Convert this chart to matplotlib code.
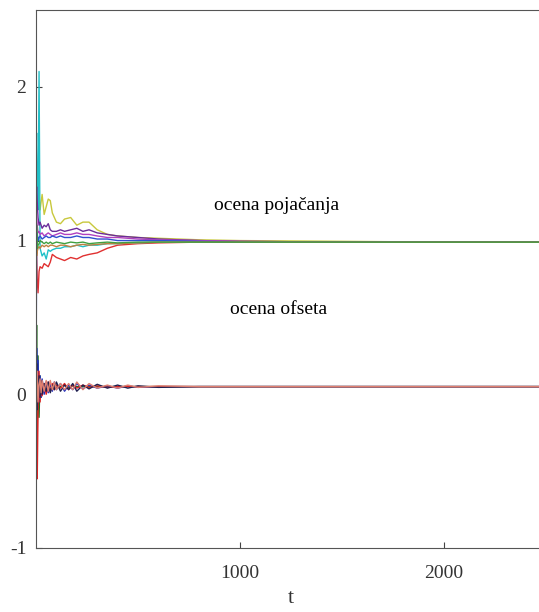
import matplotlib
matplotlib.use('Agg')
import matplotlib.pyplot as plt

plt.rcParams['font.family'] = ['Liberation Serif', 'DejaVu Serif']

# vremenske tacke (uzorci ocitani sa slike)
t_gain = [1, 3, 6, 10, 15, 20, 30, 40, 50, 60, 70, 80, 100, 120, 140, 170,
          200, 230, 260, 300, 350, 400, 500, 600, 800, 1000, 1500, 2000, 2500]
t_off = [1, 3, 6, 10, 15, 20, 25, 30, 40, 50, 60, 70, 80, 90, 100, 120, 140,
         160, 180, 200, 230, 260, 300, 350, 400, 450, 500, 600, 800, 1000, 1500, 2000, 2500]

# ocene pojacanja
gain_yellow = [1.40, 1.50, 1.35, 1.48, 1.30, 1.20, 1.30, 1.17, 1.22, 1.27, 1.26, 1.18, 1.12, 1.11, 1.14,
               1.15, 1.10, 1.12, 1.12, 1.07, 1.04, 1.03, 1.02, 1.015, 1.005, 1.0, 0.995, 0.99, 0.99]
gain_purple = [1.30, 1.35, 1.25, 1.15, 1.10, 1.12, 1.08, 1.10, 1.09, 1.11, 1.07, 1.06, 1.06, 1.07, 1.06,
               1.07, 1.08, 1.06, 1.07, 1.05, 1.04, 1.03, 1.02, 1.01, 1.0, 0.995, 0.99, 0.99, 0.99]
gain_magenta = [1.20, 1.15, 1.10, 1.05, 1.06, 1.04, 1.05, 1.03, 1.04, 1.05, 1.04, 1.03, 1.04, 1.05, 1.04,
                1.04, 1.05, 1.04, 1.04, 1.03, 1.02, 1.02, 1.01, 1.005, 1.0, 0.995, 0.99, 0.99, 0.99]
gain_blue = [0.30, 0.95, 1.05, 1.00, 1.02, 1.03, 1.01, 1.02, 1.03, 1.02, 1.02, 1.03, 1.02, 1.03, 1.02,
             1.02, 1.03, 1.02, 1.02, 1.01, 1.01, 1.0, 1.0, 1.0, 0.995, 0.99, 0.99, 0.99, 0.99]
gain_green = [0.85, 1.10, 0.95, 0.97, 0.98, 1.00, 0.99, 0.98, 0.99, 0.98, 0.99, 0.98, 0.99, 0.985, 0.98,
              0.99, 0.985, 0.99, 0.98, 0.985, 0.99, 0.985, 0.99, 0.99, 0.99, 0.99, 0.99, 0.99, 0.99]
gain_orange = [1.10, 0.90, 0.93, 0.95, 0.96, 0.95, 0.97, 0.96, 0.97, 0.96, 0.97, 0.97, 0.96, 0.97, 0.97,
               0.96, 0.97, 0.975, 0.97, 0.975, 0.98, 0.98, 0.985, 0.99, 0.99, 0.99, 0.99, 0.99, 0.99]
gain_cyan = [1.60, 1.70, 1.40, 1.20, 2.10, 0.95, 0.90, 0.92, 0.88, 0.94, 0.93, 0.94, 0.95, 0.95, 0.96,
             0.96, 0.97, 0.96, 0.97, 0.97, 0.98, 0.98, 0.985, 0.99, 0.99, 0.99, 0.99, 0.99, 0.99]
gain_red = [1.30, 0.90, 0.75, 0.66, 0.80, 0.83, 0.82, 0.85, 0.84, 0.83, 0.86, 0.91, 0.89, 0.88, 0.87,
            0.89, 0.88, 0.90, 0.91, 0.92, 0.95, 0.97, 0.98, 0.985, 0.99, 0.99, 0.99, 0.99, 0.99]

# ocene ofseta
off_blue = [0.10, 0.30, 0.05, 0.22, -0.05, 0.12, -0.02, 0.10, 0.00, 0.08, 0.01, 0.07, 0.02, 0.08, 0.03, 0.07,
            0.02, 0.06, 0.03, 0.07, 0.035, 0.06, 0.04, 0.055, 0.04, 0.055, 0.045, 0.05, 0.05, 0.05, 0.05, 0.05, 0.05]
off_green = [0.05, 0.45, -0.30, 0.25, -0.15, 0.12, -0.02, 0.08, 0.02, 0.07, 0.03, 0.06, 0.04, 0.06, 0.04, 0.05,
             0.06, 0.045, 0.055, 0.05, 0.05, 0.05, 0.05, 0.05, 0.05, 0.05, 0.05, 0.05, 0.05, 0.05, 0.05, 0.05, 0.05]
off_red = [0.00, -0.20, -0.55, -0.10, 0.15, -0.05, 0.08, -0.01, 0.07, 0.00, 0.08, 0.02, 0.07, 0.03, 0.06, 0.04,
           0.07, 0.03, 0.06, 0.04, 0.06, 0.045, 0.055, 0.045, 0.05, 0.05, 0.05, 0.05, 0.05, 0.05, 0.05, 0.05, 0.05]
off_navy = [0.10, 0.20, -0.10, 0.05, 0.12, -0.02, 0.09, 0.00, 0.07, 0.02, 0.08, 0.01, 0.06, 0.03, 0.08, 0.02,
            0.06, 0.03, 0.07, 0.02, 0.06, 0.035, 0.065, 0.04, 0.06, 0.04, 0.055, 0.045, 0.05, 0.05, 0.05, 0.05, 0.05]
off_salmon = [-0.20, 0.10, 0.15, -0.05, 0.06, 0.10, 0.01, 0.09, 0.02, 0.09, 0.02, 0.09, 0.03, 0.08, 0.03, 0.07,
              0.03, 0.07, 0.03, 0.08, 0.03, 0.07, 0.04, 0.06, 0.04, 0.06, 0.045, 0.055, 0.05, 0.05, 0.05, 0.05, 0.05]

gain_series = [(gain_yellow, '#c8c83c'), (gain_red, '#e03030'), (gain_cyan, '#20c0c8'),
               (gain_purple, '#6a2c9a'), (gain_magenta, '#b040c0'), (gain_blue, '#3050d0'),
               (gain_orange, '#c08040'), (gain_green, '#40a040')]
off_series = [(off_green, '#207020'), (off_blue, '#2030c0'), (off_red, '#e02020'),
              (off_navy, '#202050'), (off_salmon, '#e08070')]

fig = plt.figure(figsize=(5.39, 6.12), dpi=100)
ax = fig.add_axes([36/539, 64/612, 510/539, 538/612])

for vals, c in gain_series:
    ax.plot(t_gain, vals, color=c, lw=1.0)
for vals, c in off_series:
    ax.plot(t_off, vals, color=c, lw=1.0)

ax.set_xlim(0, 2500)
ax.set_ylim(-1, 2.5)
ax.set_xticks([1000, 2000])
ax.set_yticks([-1, 0, 1, 2])
ax.set_yticklabels(['-1', '0', '1', '2'])
ax.tick_params(direction='in', length=4, color='#444444', labelsize=14,
               labelcolor='#333333')
ax.tick_params(axis='x', pad=12)
ax.tick_params(axis='y', pad=7)
for s in ['left', 'bottom', 'top', 'right']:
    ax.spines[s].set_color('#555555')
ax.set_xlabel('t', fontsize=16, color='#333333', labelpad=5)

ax.text(1181, 1.23, 'ocena pojačanja', fontsize=14, ha='center', va='center')
ax.text(1191, 0.55, 'ocena ofseta', fontsize=14, ha='center', va='center')

plt.savefig('out.png', dpi=100)
plt.close()
